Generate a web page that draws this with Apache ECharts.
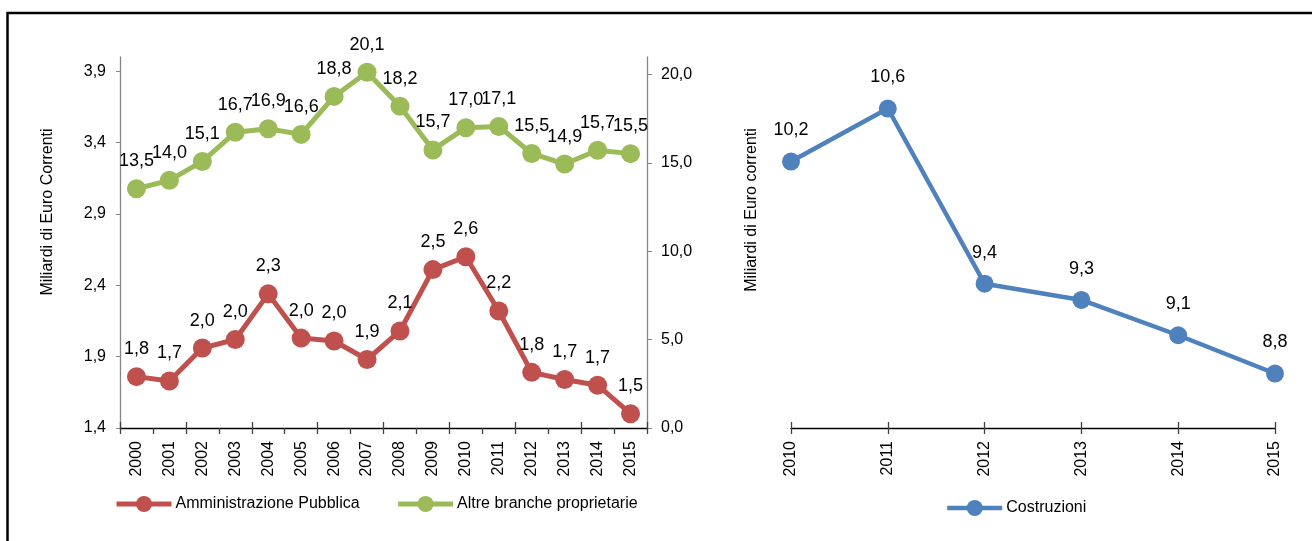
<!DOCTYPE html>
<html>
<head>
<meta charset="utf-8">
<script src="https://cdn.jsdelivr.net/npm/echarts@6/dist/echarts.min.js"></script>
<style>
  html, body { margin: 0; padding: 0; background: #fff; }
  #chart { width: 1312px; height: 541px; }
</style>
</head>
<body>
<div id="chart"></div>
<script>
// Left panel: 2000-2015, two series on two value axes
const yearsLeft = ['2000','2001','2002','2003','2004','2005','2006','2007','2008','2009','2010','2011','2012','2013','2014','2015'];
const amministrazionePubblica = [1.76, 1.73, 1.96, 2.02, 2.34, 2.03, 2.01, 1.88, 2.08, 2.51, 2.60, 2.22, 1.79, 1.74, 1.70, 1.50];
const altreBranche = [13.54, 14.02, 15.09, 16.74, 16.94, 16.62, 18.77, 20.14, 18.21, 15.74, 17.00, 17.07, 15.54, 14.94, 15.72, 15.53];
const leftAxisTicks = [1.4, 1.9, 2.4, 2.9, 3.4, 3.9];
const rightAxisTicks = [0, 5, 10, 15, 20];

// Right panel: 2010-2015
const yearsRight = ['2010','2011','2012','2013','2014','2015'];
const costruzioni = [10.24, 10.60, 9.41, 9.30, 9.06, 8.80];

const FONT = "'Liberation Sans', Arial, sans-serif";
const RED = '#C0504D', GREEN = '#9BBB59', BLUE = '#4F81BD';
const fmt1 = v => Number(v).toFixed(1).replace('.', ',');

const chart = echarts.init(document.getElementById('chart'), null, { renderer: 'canvas' });

const axisLabelStyle = { color: '#000', fontFamily: FONT, fontSize: 16 };

function catAxis(gridIndex, data, boundaryGap, inside) {
  return {
    type: 'category', gridIndex, data, boundaryGap, position: 'bottom',
    axisLine: { show: !inside, lineStyle: { color: '#000', width: 1.3 } },
    axisTick: { show: true, inside, length: 6, alignWithLabel: !boundaryGap, lineStyle: { color: '#404040', width: 1.3 } },
    axisLabel: inside ? { show: false } : Object.assign({ rotate: 90, margin: 13, interval: 0 }, axisLabelStyle),
    splitLine: { show: false }
  };
}

const legendText = { color: '#000', fontFamily: FONT, fontSize: 16, padding: [0, 0, 0, -1] };

const option = {
  animation: false,
  backgroundColor: '#fff',
  textStyle: { fontFamily: FONT },
  grid: [
    { left: 120, top: 57, width: 527, height: 371 },
    { left: 791, top: 57, width: 484, height: 371 }
  ],
  xAxis: [
    catAxis(0, yearsLeft, true, false),
    catAxis(0, yearsLeft, true, true),
    catAxis(1, yearsRight, false, false),
    catAxis(1, yearsRight, false, true)
  ],
  yAxis: [
    {
      type: 'value', gridIndex: 0, position: 'left', min: 1.4, max: 4.0,
      axisLine: { show: true, lineStyle: { color: '#868686', width: 1.3 } },
      axisTick: { show: true, length: 4, customValues: leftAxisTicks, lineStyle: { color: '#868686' } },
      axisLabel: Object.assign({ customValues: leftAxisTicks, formatter: fmt1, margin: 14 }, axisLabelStyle),
      splitLine: { show: false }
    },
    {
      type: 'value', gridIndex: 0, position: 'right', min: 0, max: 21,
      axisLine: { show: true, lineStyle: { color: '#868686', width: 1.3 } },
      axisTick: { show: true, length: 5, customValues: rightAxisTicks, lineStyle: { color: '#868686' } },
      axisLabel: Object.assign({ customValues: rightAxisTicks, formatter: fmt1, margin: 14 }, axisLabelStyle),
      splitLine: { show: false }
    },
    {
      type: 'value', gridIndex: 1, min: 8.43, max: 10.95,
      axisLine: { show: false }, axisTick: { show: false }, axisLabel: { show: false }, splitLine: { show: false }
    }
  ],
  legend: [
    {
      left: 114, top: 496, padding: 0, itemWidth: 55, itemHeight: 20, itemGap: 36,
      data: ['Amministrazione Pubblica', 'Altre branche proprietarie'],
      lineStyle: { width: 5 },
      textStyle: legendText
    },
    {
      left: 945, top: 500, padding: 0, itemWidth: 55, itemHeight: 20,
      data: ['Costruzioni'],
      lineStyle: { width: 4.5 },
      textStyle: legendText
    }
  ],
  graphic: [
    {
      type: 'rect', silent: true,
      shape: { x: 7.5, y: 13, width: 1400, height: 600 },
      style: { fill: 'none', stroke: '#000', lineWidth: 2.5 }
    },
    {
      type: 'text', x: 48, y: 212, rotation: Math.PI / 2,
      style: { text: 'Miliardi di Euro Correnti', fill: '#000', font: '16px ' + FONT, textAlign: 'center', textVerticalAlign: 'middle' }
    },
    {
      type: 'text', x: 752, y: 210, rotation: Math.PI / 2,
      style: { text: 'Miliardi di Euro correnti', fill: '#000', font: '16px ' + FONT, textAlign: 'center', textVerticalAlign: 'middle' }
    }
  ],
  series: [
    {
      name: 'Amministrazione Pubblica', type: 'line', xAxisIndex: 0, yAxisIndex: 0,
      data: amministrazionePubblica, symbol: 'circle', symbolSize: 19,
      lineStyle: { color: RED, width: 5 }, itemStyle: { color: RED },
      label: { show: true, position: 'top', distance: 9, formatter: p => fmt1(p.value), color: '#000', fontFamily: FONT, fontSize: 18 }
    },
    {
      name: 'Altre branche proprietarie', type: 'line', xAxisIndex: 0, yAxisIndex: 1,
      data: altreBranche, symbol: 'circle', symbolSize: 19,
      lineStyle: { color: GREEN, width: 5 }, itemStyle: { color: GREEN },
      label: { show: true, position: 'top', distance: 9, formatter: p => fmt1(p.value), color: '#000', fontFamily: FONT, fontSize: 18 }
    },
    {
      name: 'Costruzioni', type: 'line', xAxisIndex: 2, yAxisIndex: 2,
      data: costruzioni, symbol: 'circle', symbolSize: 18,
      lineStyle: { color: BLUE, width: 4.5 }, itemStyle: { color: BLUE },
      label: { show: true, position: 'top', distance: 13, formatter: p => fmt1(p.value), color: '#000', fontFamily: FONT, fontSize: 18 }
    }
  ]
};

chart.setOption(option);
</script>
</body>
</html>
